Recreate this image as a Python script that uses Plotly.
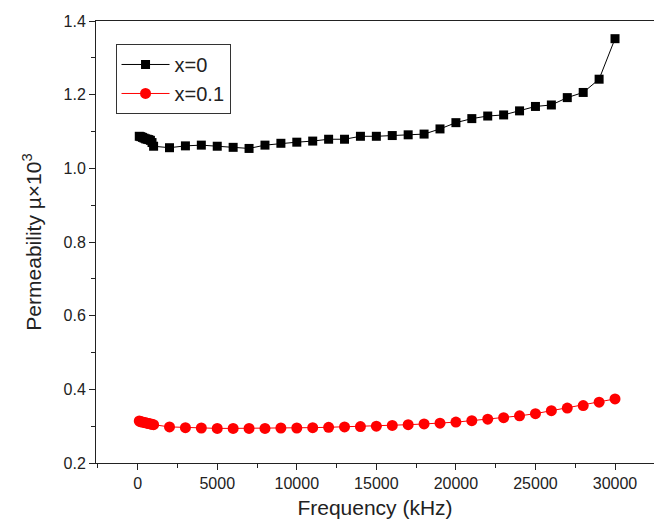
import plotly.graph_objects as go

freq_low = [100, 200, 300, 400, 500, 600, 700, 800, 900, 1000]
freq_high = list(range(2000, 31000, 1000))
freq = freq_low + freq_high

mu_x0 = [1.087, 1.086, 1.084, 1.082, 1.080, 1.079, 1.078, 1.076, 1.070, 1.060,
         1.056, 1.061, 1.063, 1.060, 1.057, 1.054, 1.063, 1.068, 1.071, 1.074,
         1.079, 1.079, 1.087, 1.087, 1.089, 1.091, 1.093, 1.107, 1.124, 1.135,
         1.142, 1.145, 1.156, 1.168, 1.172, 1.192, 1.206, 1.242, 1.352]

mu_x01 = [0.314, 0.312, 0.311, 0.310, 0.309, 0.308, 0.307, 0.306, 0.305, 0.304,
          0.298, 0.296, 0.295, 0.294, 0.294, 0.294, 0.294, 0.295, 0.295, 0.296,
          0.297, 0.298, 0.299, 0.300, 0.302, 0.304, 0.306, 0.308, 0.311, 0.315,
          0.319, 0.323, 0.328, 0.334, 0.342, 0.349, 0.356, 0.365, 0.374, 0.386]

FONT = "Liberation Sans, Arial, sans-serif"

fig = go.Figure()
fig.add_trace(go.Scatter(
    x=freq, y=mu_x0, mode="lines+markers", name="x=0",
    line=dict(color="black", width=1),
    marker=dict(symbol="square", size=9, color="black"),
))
fig.add_trace(go.Scatter(
    x=freq, y=mu_x01, mode="lines+markers", name="x=0.1",
    line=dict(color="red", width=1),
    marker=dict(symbol="circle", size=11, color="red"),
))

fig.update_layout(
    width=654, height=526,
    margin=dict(l=96, r=0, t=21, b=63),
    paper_bgcolor="white", plot_bgcolor="white",
    font=dict(family=FONT, size=16, color="#222"),
    showlegend=True,
    legend=dict(
        x=0.035, y=0.948, xanchor="left", yanchor="top",
        bordercolor="#333", borderwidth=1, bgcolor="white",
        font=dict(family=FONT, size=20, color="#222"),
        tracegroupgap=0, itemwidth=48,
    ),
    xaxis=dict(
        range=[-2620, 32450],
        tickmode="linear", tick0=0, dtick=5000, tickformat="d",
        ticks="outside", ticklen=6, tickwidth=1, tickcolor="#222",
        minor=dict(ticks="outside", ticklen=4, dtick=2500, tick0=0, tickcolor="#222"),
        showline=True, linecolor="#222", linewidth=1, mirror=True,
        showgrid=False, zeroline=False,
        title=dict(text="Frequency (kHz)", font=dict(family=FONT, size=21), standoff=9),
        tickfont=dict(family=FONT, size=16),
    ),
    yaxis=dict(
        range=[0.2, 1.4],
        tickmode="linear", tick0=0.2, dtick=0.2, tickformat=".1f",
        ticks="outside", ticklen=6, tickwidth=1, tickcolor="#222",
        minor=dict(ticks="outside", ticklen=4, dtick=0.1, tick0=0.2, tickcolor="#222"),
        showline=True, linecolor="#222", linewidth=1, mirror=False,
        showgrid=False, zeroline=False,
        title=dict(text="Permeability \u00b5\u00d710<sup>3</sup>", font=dict(family=FONT, size=21), standoff=16),
        tickfont=dict(family=FONT, size=16),
    ),
)

fig.write_html("out.html")
